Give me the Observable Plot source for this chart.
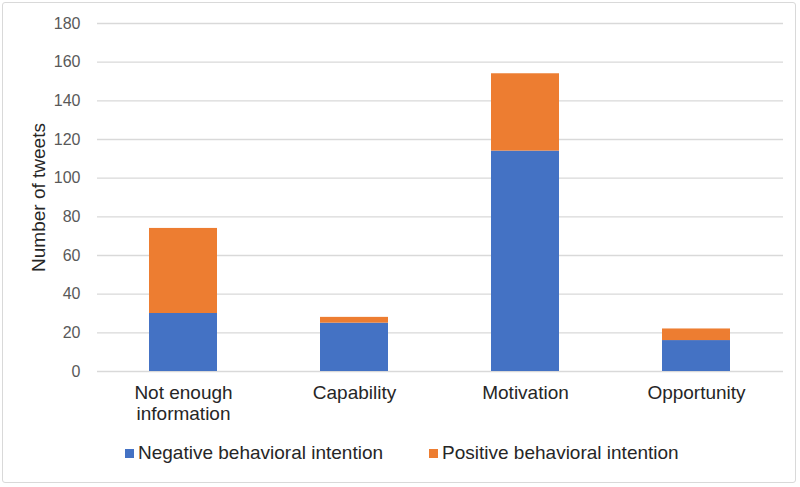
<!DOCTYPE html>
<html>
<head>
<meta charset="utf-8">
<script src="https://cdn.jsdelivr.net/npm/d3@7"></script>
<script src="https://cdn.jsdelivr.net/npm/@observablehq/plot@0.6"></script>
<style>
  html, body { margin: 0; padding: 0; background: #fff; }
  #wrap { position: relative; width: 800px; height: 487px; font-family: "Liberation Sans", Arial, sans-serif; }
  #frame { position: absolute; left: 2px; top: 2px; width: 794px; height: 481px; border: 1px solid #d9d9d9; border-radius: 3px; box-sizing: border-box; }
  #chart { position: absolute; left: 0; top: 0; }
  #legend { position: absolute; top: 442px; left: 125px; display: flex; align-items: center; font-size: 19px; color: #262626; }
  .item { display: flex; align-items: center; margin-right: 46px; }
  .sw { width: 9px; height: 9px; margin-right: 4px; }
</style>
</head>
<body>
<div id="wrap">
  <div id="frame"></div>
  <div id="chart"></div>
  <div id="legend"></div>
</div>
<script>
const categories = ["Not enough information", "Capability", "Motivation", "Opportunity"];
const categoryLabels = ["Not enough\ninformation", "Capability", "Motivation", "Opportunity"];
const seriesNames = ["Negative behavioral intention", "Positive behavioral intention"];
const negativeValues = [30, 25, 114, 16];
const positiveValues = [44, 3, 40, 6];
const yTicks = [0, 20, 40, 60, 80, 100, 120, 140, 160, 180];
const colors = ["#4472C4", "#ED7D31"];

const data = [];
categories.forEach((c, i) => {
  data.push({category: c, series: seriesNames[0], value: negativeValues[i]});
  data.push({category: c, series: seriesNames[1], value: positiveValues[i]});
});

const labelMap = new Map(categories.map((c, i) => [c, categoryLabels[i]]));

const chart = Plot.plot({
  width: 800,
  height: 430,
  marginLeft: 97,
  marginRight: 17,
  marginTop: 23,
  marginBottom: 59,
  style: {fontFamily: "Liberation Sans, Arial, sans-serif", background: "transparent"},
  x: {domain: categories, paddingInner: 0.6, paddingOuter: 0.3, label: null},
  y: {domain: [0, 180], label: null},
  color: {domain: seriesNames, range: colors},
  marks: [
    Plot.gridY(yTicks, {stroke: "#d9d9d9", strokeOpacity: 1, strokeWidth: 1.3}),
    Plot.barY(data, {x: "category", y: "value", fill: "series"}),
    Plot.axisY(yTicks, {tickSize: 0, tickPadding: 17, fontSize: 16, color: "#595959", label: null}),
    Plot.axisX({tickSize: 0, tickPadding: 13, fontSize: 19, color: "#262626", tickFormat: d => labelMap.get(d), lineHeight: 1.1}),
    Plot.text(["Number of tweets"], {frameAnchor: "left", dx: -59, rotate: -90, textAnchor: "middle", fontSize: 19, fill: "#262626", text: d => d})
  ]
});
document.getElementById("chart").appendChild(chart);

const legend = document.getElementById("legend");
seriesNames.forEach((s, i) => {
  const item = document.createElement("div");
  item.className = "item";
  const sw = document.createElement("span");
  sw.className = "sw";
  sw.style.background = colors[i];
  const t = document.createElement("span");
  t.textContent = s;
  item.appendChild(sw);
  item.appendChild(t);
  legend.appendChild(item);
});
</script>
</body>
</html>
